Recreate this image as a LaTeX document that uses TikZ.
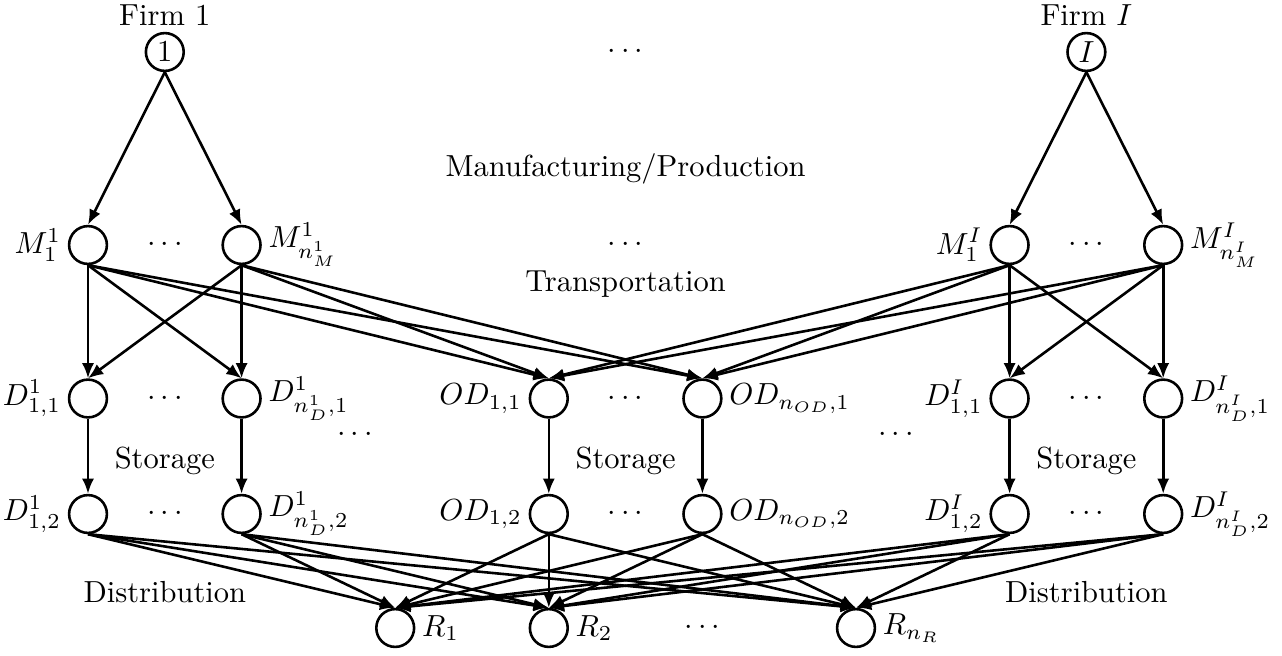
\documentclass[tikz,border=0pt]{standalone}
\usetikzlibrary{arrows.meta}
\begin{document}
\begin{tikzpicture}[x=0.328pt,y=-0.328pt,
  nd/.style={circle,draw,line width=0.85pt,minimum size=12.4pt,inner sep=0pt},
  arr/.style={-{Latex[length=5pt,width=4pt]},line width=0.85pt},
  txt/.style={anchor=base,inner sep=0pt},
  every label/.style={inner sep=2pt}]
\useasboundingbox (0,0) rectangle (1282,655);
% firms
\node[nd,label={above:Firm $1$}] (f1) at (164.8,52) {$1$};
\node[nd,label={above:Firm $I$}] (fI) at (1086.4,52) {$I$};
% manufacturing row
\node[nd,label={left:$M^1_1$}] (m0) at (88,245) {};
\node[nd,label={right:$M^1_{n^1_M}$}] (m1) at (241.6,245) {};
\node[nd,label={left:$M^I_1$}] (m6) at (1009.6,245) {};
\node[nd,label={right:$M^I_{n^I_M}$}] (m7) at (1163.2,245) {};
% storage row 1
\node[nd,label={left:$D^1_{1,1}$}] (d0) at (88,398.5) {};
\node[nd,label={right:$D^1_{n^1_D,1}$}] (d1) at (241.6,398.5) {};
\node[nd,label={left:$OD_{1,1}$}] (d3) at (548.8,398.5) {};
\node[nd,label={right:$OD_{n_{OD},1}$}] (d4) at (702.4,398.5) {};
\node[nd,label={left:$D^I_{1,1}$}] (d6) at (1009.6,398.5) {};
\node[nd,label={right:$D^I_{n^I_D,1}$}] (d7) at (1163.2,398.5) {};
% storage row 2
\node[nd,label={left:$D^1_{1,2}$}] (e0) at (88,514) {};
\node[nd,label={right:$D^1_{n^1_D,2}$}] (e1) at (241.6,514) {};
\node[nd,label={left:$OD_{1,2}$}] (e3) at (548.8,514) {};
\node[nd,label={right:$OD_{n_{OD},2}$}] (e4) at (702.4,514) {};
\node[nd,label={left:$D^I_{1,2}$}] (e6) at (1009.6,514) {};
\node[nd,label={right:$D^I_{n^I_D,2}$}] (e7) at (1163.2,514) {};
% retailers
\node[nd,label={right:$R_1$}] (r2) at (395.2,628) {};
\node[nd,label={right:$R_2$}] (r3) at (548.8,628) {};
\node[nd,label={right:$R_{n_R}$}] (r5) at (856,628) {};
% dots
\node (t0) at (625.6,52) {$\cdots$};
\node (t1) at (164.8,245) {$\cdots$};
\node (t2) at (625.6,245) {$\cdots$};
\node (t3) at (1086.4,245) {$\cdots$};
\node (t4) at (164.8,398.5) {$\cdots$};
\node (t5) at (625.6,398.5) {$\cdots$};
\node (t6) at (1086.4,398.5) {$\cdots$};
\node (t7) at (355,435) {$\cdots$};
\node (t8) at (896,435) {$\cdots$};
\node (t9) at (164.8,514) {$\cdots$};
\node (t10) at (625.6,514) {$\cdots$};
\node (t11) at (1086.4,514) {$\cdots$};
\node (t12) at (702.4,628) {$\cdots$};
% stage labels
\node[txt] (manu) at (625.6,176) {Manufacturing/Production};
\node[txt] (trans) at (625.6,291) {Transportation};
\node[txt] (st1) at (164.8,468) {Storage};
\node[txt] (st2) at (625.6,468) {Storage};
\node[txt] (st3) at (1086.4,468) {Storage};
\node[txt] (dist1) at (164.8,602) {Distribution};
\node[txt] (dist2) at (1086.4,602) {Distribution};
% edges
\foreach \t in {m0,m1} \draw[arr] (f1.south) -- (\t.north);
\foreach \t in {m6,m7} \draw[arr] (fI.south) -- (\t.north);
\foreach \s in {m0,m1} \foreach \t in {d0,d1,d3,d4} \draw[arr] (\s.south) -- (\t.north);
\foreach \s in {m6,m7} \foreach \t in {d6,d7,d3,d4} \draw[arr] (\s.south) -- (\t.north);
\foreach \i in {0,1,3,4,6,7} \draw[arr] (d\i.south) -- (e\i.north);
\foreach \i in {0,1,3,4,6,7} \foreach \t in {r2,r3,r5} \draw[arr] (e\i.south) -- (\t.north);
\end{tikzpicture}
\end{document}
